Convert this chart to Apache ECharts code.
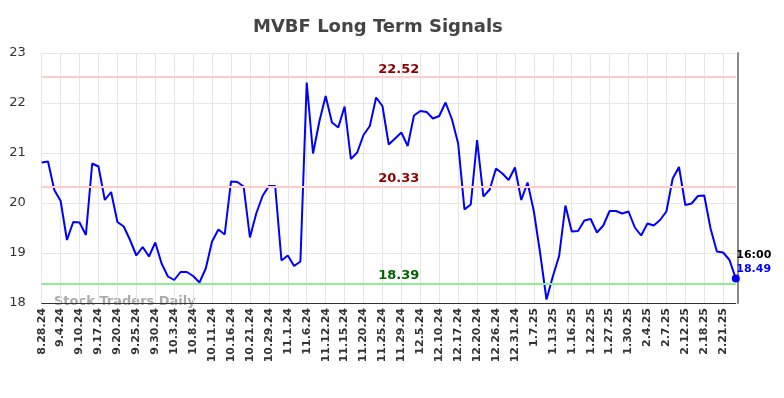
<!DOCTYPE html>
<html>
<head>
<meta charset="utf-8">
<title>MVBF Long Term Signals</title>
<script src="https://cdn.jsdelivr.net/npm/echarts@6/dist/echarts.min.js"></script>
<style>
  html, body, #main { width: 784px; height: 398px; margin: 0; padding: 0; background: #fff; }
</style>
</head>
<body>
<div id="main"></div>
<script type="text/javascript">
// tick labels (every 3rd point gets one)
var tickLabels = ['8.28.24','9.4.24','9.10.24','9.17.24','9.20.24','9.25.24','9.30.24','10.3.24',
  '10.8.24','10.11.24','10.16.24','10.21.24','10.29.24','11.1.24','11.6.24','11.12.24','11.15.24',
  '11.20.24','11.25.24','11.29.24','12.5.24','12.10.24','12.17.24','12.20.24','12.26.24','12.31.24',
  '1.7.25','1.13.25','1.16.25','1.22.25','1.27.25','1.30.25','2.4.25','2.7.25','2.12.25','2.18.25','2.21.25'];

// closing prices
var prices = [
  20.81,20.83,20.26,20.04,19.26,19.62,19.61,19.36,20.79,20.73,
  20.06,20.22,19.62,19.53,19.26,18.95,19.12,18.93,19.21,18.79,
  18.53,18.46,18.62,18.62,18.54,18.41,18.69,19.23,19.47,19.37,
  20.43,20.42,20.33,19.31,19.79,20.14,20.34,20.34,18.85,18.95,
  18.74,18.83,22.41,20.99,21.63,22.14,21.61,21.51,21.93,20.88,
  21.01,21.36,21.54,22.11,21.94,21.17,21.29,21.41,21.14,21.75,
  21.84,21.82,21.69,21.74,22.01,21.68,21.19,19.87,19.97,21.26,
  20.13,20.27,20.69,20.59,20.46,20.71,20.06,20.41,19.83,18.99,
  18.07,18.53,18.94,19.95,19.43,19.44,19.65,19.68,19.41,19.55,
  19.84,19.84,19.79,19.83,19.51,19.35,19.59,19.55,19.66,19.83,
  20.49,20.72,19.96,19.99,20.14,20.15,19.49,19.03,19.01,18.86,
  18.49
];

var upperSignal = 22.52;
var midSignal = 20.33;
var lowerSignal = 18.39;
var lastTime = '16:00';

var categories = prices.map(function (v, i) {
  return i % 3 === 0 ? tickLabels[i / 3] : tickLabels[Math.floor(i / 3)] + '_' + (i % 3);
});

var myChart = echarts.init(document.getElementById('main'));
var lastIdx = prices.length - 1;

var sigLabel = {
  position: 'middle',
  distance: 1,
  padding: [0, 0, 0, 20],
  fontFamily: 'DejaVu Sans',
  fontSize: 13,
  fontWeight: 'bold'
};

myChart.setOption({
  animation: false,
  title: {
    text: 'MVBF Long Term Signals',
    left: 248,
    top: 13,
    textStyle: { fontFamily: 'DejaVu Sans', fontSize: 18, fontWeight: 'bold', color: '#444' }
  },
  grid: { left: 41.7, right: 48.2, top: 53, bottom: 95 },
  xAxis: {
    type: 'category',
    data: categories,
    boundaryGap: false,
    axisLine: { show: true, lineStyle: { color: '#333', width: 1 } },
    axisTick: { show: false },
    axisLabel: {
      interval: 2,
      rotate: 90,
      margin: 5,
      fontFamily: 'DejaVu Sans',
      fontSize: 11,
      fontWeight: 'bold',
      color: '#333',
      formatter: function (v) { return v.indexOf('_') >= 0 ? '' : v; }
    },
    splitLine: { show: true, interval: 2, lineStyle: { color: '#e6e6e6', width: 1 } }
  },
  yAxis: [{
    type: 'value',
    min: 18,
    max: 23,
    interval: 1,
    axisLine: { show: false },
    axisTick: { show: false },
    axisLabel: { margin: 16, fontFamily: 'DejaVu Sans', fontSize: 13, color: '#333' },
    splitLine: { lineStyle: { color: '#e6e6e6', width: 1 } }
  }, {
    type: 'value',
    min: 18,
    max: 23,
    position: 'right',
    offset: 2,
    axisLine: { show: true, lineStyle: { color: '#888', width: 2 } },
    axisTick: { show: false },
    axisLabel: { show: false },
    splitLine: { show: false }
  }],
  graphic: [{
    type: 'text',
    left: 54,
    top: 295,
    style: {
      text: 'Stock Traders Daily',
      fontFamily: 'DejaVu Sans',
      fontSize: 13,
      fontWeight: 'bold',
      fill: '#aaa'
    }
  }],
  series: [{
    type: 'line',
    data: prices,
    symbol: 'none',
    lineStyle: { color: '#0000ff', width: 2 },
    markLine: {
      silent: true,
      symbol: 'none',
      label: sigLabel,
      data: [
        { yAxis: upperSignal, lineStyle: { color: '#ffcccc', width: 2, type: 'solid' },
          label: { formatter: upperSignal.toFixed(2), color: '#8b0000' } },
        { yAxis: midSignal, lineStyle: { color: '#ffcccc', width: 2, type: 'solid' },
          label: { formatter: midSignal.toFixed(2), color: '#8b0000' } },
        { yAxis: lowerSignal, lineStyle: { color: '#90ee90', width: 2, type: 'solid' },
          label: { formatter: lowerSignal.toFixed(2), color: '#006400' } }
      ]
    },
    markPoint: {
      silent: true,
      data: [{
        coord: [lastIdx, prices[lastIdx]],
        symbol: 'circle',
        symbolSize: 8,
        itemStyle: { color: '#0000ff' },
        label: {
          show: true,
          position: 'top',
          offset: [18, 7],
          fontFamily: 'DejaVu Sans',
          fontSize: 11,
          fontWeight: 'bold',
          lineHeight: 14,
          formatter: '{t|' + lastTime + '}\n{v|' + prices[lastIdx].toFixed(2) + '}',
          rich: {
            t: { color: '#000', fontSize: 11, fontWeight: 'bold', fontFamily: 'DejaVu Sans', align: 'left' },
            v: { color: '#0000ff', fontSize: 11, fontWeight: 'bold', fontFamily: 'DejaVu Sans', align: 'left' }
          }
        }
      }]
    }
  }]
});
</script>
</body>
</html>
